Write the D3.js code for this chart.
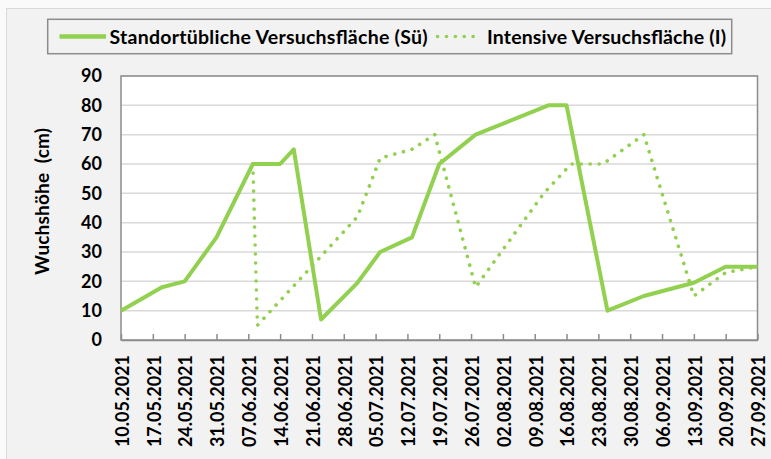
<!DOCTYPE html>
<html><head><meta charset="utf-8">
<script src="https://cdn.jsdelivr.net/npm/d3@7"></script>
<style>html,body{margin:0;padding:0;background:#fafafa;}svg{display:block;}</style>
</head><body>
<svg id="chart" width="771" height="459"></svg>
<script>
// ---- data ----
const seriesNames = ["Standortübliche Versuchsfläche (Sü)", "Intensive Versuchsfläche (I)"];
const suDates = ["10.05.2021","19.05.2021","24.05.2021","31.05.2021","08.06.2021","14.06.2021","17.06.2021","23.06.2021","01.07.2021","06.07.2021","13.07.2021","19.07.2021","27.07.2021","12.08.2021","16.08.2021","25.08.2021","02.09.2021","13.09.2021","20.09.2021","27.09.2021"];
const suValues = [10,18,20,35,60,60,65,7,19.5,30,35,60,70,80,80,10,15,19.5,25,25];
const intDates = ["08.06.2021","09.06.2021","01.07.2021","06.07.2021","13.07.2021","18.07.2021","27.07.2021","11.08.2021","17.08.2021","24.08.2021","02.09.2021","13.09.2021","20.09.2021","27.09.2021"];
const intValues = [60,5,42,62,65,70,18,50,60,60,70,15,23,25];
const xTickLabels = ["10.05.2021","17.05.2021","24.05.2021","31.05.2021","07.06.2021","14.06.2021","21.06.2021","28.06.2021","05.07.2021","12.07.2021","19.07.2021","26.07.2021","02.08.2021","09.08.2021","16.08.2021","23.08.2021","30.08.2021","06.09.2021","13.09.2021","20.09.2021","27.09.2021"];
const yTicks = [0,10,20,30,40,50,60,70,80,90];
const yTitle = "Wuchshöhe  (cm)";

// ---- setup ----
const parse = d3.utcParse("%d.%m.%Y");
const fmt = d3.utcFormat("%d.%m.%Y");
const green = "#92d050";
const font = "Lato, 'Open Sans', sans-serif";
const svg = d3.select("#chart");
const plot = {left:121, right:757.5, top:76, bottom:340};

const x = d3.scaleUtc()
  .domain([parse(xTickLabels[0]), parse(xTickLabels[xTickLabels.length-1])])
  .range([plot.left, plot.right]);
const y = d3.scaleLinear().domain([0,90]).range([plot.bottom, plot.top]);

// chart area background
svg.append("rect").attr("x",6.5).attr("y",8.5).attr("width",800).attr("height",500)
  .attr("fill","#f2f2f2").attr("stroke","#d9d9d9").attr("stroke-width",1);

// plot area
svg.append("rect").attr("x",plot.left).attr("y",plot.top)
  .attr("width",plot.right-plot.left).attr("height",plot.bottom-plot.top).attr("fill","#ffffff");

// gridlines
svg.append("g").selectAll("line").data(yTicks.filter(d=>d>0)).join("line")
  .attr("x1",plot.left).attr("x2",plot.right)
  .attr("y1",d=>y(d)).attr("y2",d=>y(d))
  .attr("stroke","#d9d9d9").attr("stroke-width",1.5);

// plot border
svg.append("rect").attr("x",plot.left).attr("y",plot.top)
  .attr("width",plot.right-plot.left).attr("height",plot.bottom-plot.top)
  .attr("fill","none").attr("stroke","#8c8c8c").attr("stroke-width",1.5);

// x axis (ticks inside, labels rotated)
const xAxis = d3.axisBottom(x)
  .tickValues(xTickLabels.map(parse))
  .tickFormat(fmt)
  .tickSizeInner(-6).tickSizeOuter(0);
const gx = svg.append("g").attr("transform",`translate(0,${plot.bottom})`).call(xAxis);
gx.select(".domain").attr("stroke","#8c8c8c").attr("stroke-width",1.5);
gx.selectAll(".tick line").attr("stroke","#8c8c8c").attr("stroke-width",1.5);
gx.selectAll(".tick text")
  .attr("transform","rotate(-90)")
  .attr("x",-15).attr("y",1).attr("dy","0.35em")
  .attr("text-anchor","end")
  .style("font-family",font)
  .style("font-weight","bold").style("font-size","18px").attr("fill","#000");

// y axis labels
const yAxis = d3.axisLeft(y).tickValues(yTicks).tickSize(0).tickPadding(0);
const gy = svg.append("g").attr("transform",`translate(${102},0)`).call(yAxis);
gy.select(".domain").remove();
gy.selectAll(".tick text")
  .style("font-family",font)
  .style("font-weight","bold").style("font-size","18px").attr("fill","#000");

// y title
svg.append("text").attr("transform","translate(49,201.5) rotate(-90)")
  .attr("text-anchor","middle")
  .style("white-space","pre")
  .style("font-family",font)
  .style("font-weight","bold").style("font-size","19px").attr("fill","#000")
  .attr("textLength",147).attr("lengthAdjust","spacing")
  .text(yTitle);

// lines
const line = d3.line().x(d=>x(d.date)).y(d=>y(d.value));
const suData = suDates.map((d,i)=>({date:parse(d), value:suValues[i]}));
const intData = intDates.map((d,i)=>({date:parse(d), value:intValues[i]}));

svg.append("path").datum(suData).attr("d",line)
  .attr("fill","none").attr("stroke",green).attr("stroke-width",4)
  .attr("stroke-linejoin","round");
svg.append("path").datum(intData).attr("d",line)
  .attr("fill","none").attr("stroke",green).attr("stroke-width",3.6)
  .attr("stroke-linecap","round").attr("stroke-dasharray","0.1 8.9");

// legend
const leg = svg.append("g");
leg.append("rect").attr("x",47.7).attr("y",19.3).attr("width",684).attr("height",34.4)
  .attr("fill","#f2f2f2").attr("stroke","#8c8c8c").attr("stroke-width",1.5);
leg.append("line").attr("x1",59.5).attr("x2",106).attr("y1",36.5).attr("y2",36.5)
  .attr("stroke",green).attr("stroke-width",4.3);
leg.append("text").attr("x",109.5).attr("y",37).attr("dy","0.35em")
  .style("font-family",font)
  .style("font-weight","bold").style("font-size","19.5px").attr("fill","#000")
  .attr("textLength",318).attr("lengthAdjust","spacing")
  .text(seriesNames[0]);
leg.append("line").attr("x1",437.5).attr("x2",482).attr("y1",36.5).attr("y2",36.5)
  .attr("stroke",green).attr("stroke-width",3.6)
  .attr("stroke-linecap","round").attr("stroke-dasharray","0.1 8.8");
leg.append("text").attr("x",487).attr("y",37).attr("dy","0.35em")
  .style("font-family",font)
  .style("font-weight","bold").style("font-size","19.5px").attr("fill","#000")
  .attr("textLength",239).attr("lengthAdjust","spacing")
  .text(seriesNames[1]);
</script>
</body></html>
